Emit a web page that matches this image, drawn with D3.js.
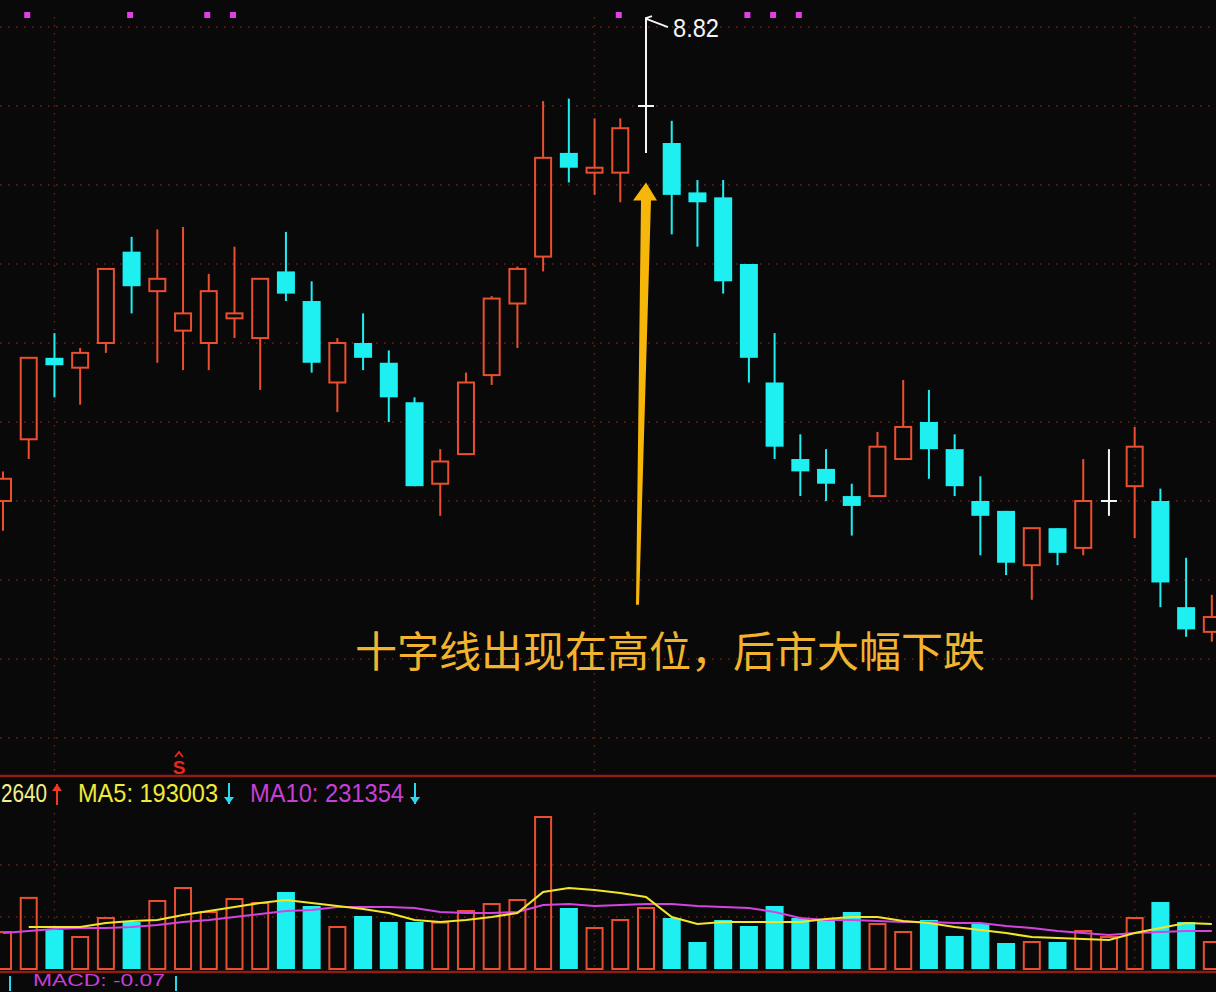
<!DOCTYPE html>
<html><head><meta charset="utf-8">
<script src="https://cdn.jsdelivr.net/npm/d3@7"></script>
<style>html,body{margin:0;padding:0;background:#090909;overflow:hidden}</style>
</head><body><svg id="c" width="1216" height="992"></svg>
<script>
// ---- data ----
const opens  = [6.86,7.11,7.44,7.40,7.50,7.87,7.71,7.55,7.50,7.60,7.52,7.79,7.67,7.34,7.50,7.42,7.26,6.93,7.05,7.37,7.66,7.85,8.27,8.19,8.19,8.46,8.31,8.11,8.09,7.82,7.34,7.03,6.99,6.88,6.88,7.03,7.18,7.07,6.86,6.82,6.60,6.75,6.67,6.86,6.92,6.86,6.43,6.33];
const highs  = [6.98,7.44,7.54,7.48,7.80,7.93,7.96,7.97,7.78,7.89,7.76,7.95,7.75,7.52,7.62,7.47,7.28,7.07,7.38,7.69,7.81,8.48,8.49,8.41,8.41,8.82,8.40,8.16,8.16,7.82,7.54,7.13,7.07,6.93,7.14,7.35,7.31,7.13,6.96,6.82,6.75,6.75,7.03,7.07,7.16,6.91,6.63,6.48];
const lows   = [6.74,7.03,7.28,7.25,7.46,7.62,7.42,7.39,7.39,7.52,7.31,7.67,7.38,7.22,7.39,7.18,6.92,6.80,7.05,7.33,7.48,7.79,8.15,8.10,8.07,8.27,7.94,7.89,7.70,7.34,7.03,6.88,6.86,6.72,6.88,7.03,6.95,6.88,6.64,6.56,6.46,6.60,6.64,6.80,6.71,6.43,6.31,6.29];
const closes = [6.95,7.44,7.41,7.46,7.80,7.73,7.76,7.62,7.71,7.62,7.76,7.70,7.42,7.50,7.44,7.28,6.92,7.02,7.34,7.68,7.80,8.25,8.21,8.21,8.37,8.46,8.10,8.07,7.75,7.44,7.08,6.98,6.93,6.84,7.08,7.16,7.07,6.92,6.80,6.61,6.75,6.65,6.86,6.86,7.08,6.53,6.34,6.39];
const volumes = [166000,320000,175500,144000,229500,211500,306000,364500,256500,315000,297000,346500,283500,189000,238500,211500,211500,209000,261000,292500,310500,684000,274500,184500,220500,274500,229500,121500,220500,193500,283500,229500,220500,256500,202500,166500,220500,148500,207000,117000,121500,121500,171000,144000,229500,301500,211500,121500];
const ma5 = [null,189000,189000,189000,207000,216000,220500,243000,261000,279000,297000,310500,297000,283500,270000,252000,220500,211500,220500,234000,252000,346500,364500,355500,342000,324000,234000,202500,211500,211500,211500,211500,225000,234000,234000,216000,207000,189000,175500,162000,144000,139500,135000,130500,162000,184500,207000,202500];
const ma10 = [162000,171000,180000,184500,184500,189000,198000,211500,220500,234000,247500,261000,265500,279000,279000,279000,274500,256500,252000,252000,256500,288000,292500,283500,288000,292500,292500,283500,279000,274500,256500,229500,220500,220500,216000,211500,211500,207000,207000,193500,184500,171000,162000,153000,162000,166500,171000,171000];
const signalDays = [1,5,8,9,24,29,30,31];
const gridDays = [2,23,44];
const priceGrid = [8.78,8.46,8.14,7.82,7.50,7.18,6.86,6.54,6.22,5.90];
const volGrid = [234000,468000];
const legend = [{t:"2640",c:"#f2ee8a"},{t:"MA5: 193003",c:"#f0ea3a"},{t:"MA10: 231354",c:"#c83fd6"}];
const noteText = "十字线出现在高位，后市大幅下跌";
const macdText = "MACD: -0.07";
const arrowDay = 25, arrowTip = 8.15, arrowBase = 6.44;

// ---- colours ----
const RED = "#ea4f30", CYAN = "#1ef0f2", WHITE = "#f4f4f4", GRID = "#6b2313";

const svg = d3.select("#c");
svg.append("rect").attr("width",1216).attr("height",992).attr("fill","#090909");

const x = d3.scaleLinear().domain([0, opens.length-1]).range([3, 3 + (opens.length-1)*25.72]);
const y = d3.scaleLinear().domain([5.90, 8.78]).range([738, 27]);
const vy = d3.scaleLinear().domain([0, 720000]).range([969, 809]);

// grid
const g = svg.append("g");
g.selectAll(".hp").data(priceGrid).join("line")
  .attr("x1",0).attr("x2",1216).attr("y1",d=>y(d)).attr("y2",d=>y(d))
  .attr("stroke",GRID).attr("stroke-width",1.5).attr("stroke-dasharray","1.5,6.5");
g.selectAll(".vp").data(gridDays).join("line")
  .attr("x1",d=>x(d)).attr("x2",d=>x(d)).attr("y1",17).attr("y2",772)
  .attr("stroke",GRID).attr("stroke-width",1.5).attr("stroke-dasharray","1.5,6.5");
g.selectAll(".hv").data(volGrid).join("line")
  .attr("x1",0).attr("x2",1216).attr("y1",d=>vy(d)).attr("y2",d=>vy(d))
  .attr("stroke",GRID).attr("stroke-width",1.5).attr("stroke-dasharray","1.5,6.5");
g.selectAll(".vv").data(gridDays).join("line")
  .attr("x1",d=>x(d)).attr("x2",d=>x(d)).attr("y1",813).attr("y2",969)
  .attr("stroke",GRID).attr("stroke-width",1.5).attr("stroke-dasharray","1.5,6.5");

// panel separators
svg.append("line").attr("x1",0).attr("x2",1216).attr("y1",776).attr("y2",776).attr("stroke","#8e1f10").attr("stroke-width",2.5);
svg.append("line").attr("x1",0).attr("x2",1216).attr("y1",972).attr("y2",972).attr("stroke","#8e1f10").attr("stroke-width",2.5);

// signal dots
svg.selectAll(".dot").data(signalDays).join("rect")
  .attr("x",d=>x(d)-4.5).attr("y",12).attr("width",6).attr("height",6).attr("fill","#e03fe6");

// candles
const idx = d3.range(opens.length);
const cg = svg.append("g");
idx.forEach(i=>{
  const o=opens[i], c=closes[i], h=highs[i], l=lows[i], cx=x(i);
  const top=y(Math.max(o,c)), bot=y(Math.min(o,c));
  if (c>o){
    cg.append("line").attr("x1",cx).attr("x2",cx).attr("y1",y(h)).attr("y2",top).attr("stroke",RED).attr("stroke-width",2);
    cg.append("line").attr("x1",cx).attr("x2",cx).attr("y1",bot).attr("y2",y(l)).attr("stroke",RED).attr("stroke-width",2);
    cg.append("rect").attr("x",cx-8).attr("y",top).attr("width",16).attr("height",Math.max(1,bot-top))
      .attr("fill","none").attr("stroke",RED).attr("stroke-width",2);
  } else if (c<o){
    cg.append("line").attr("x1",cx).attr("x2",cx).attr("y1",y(h)).attr("y2",y(l)).attr("stroke",CYAN).attr("stroke-width",2);
    cg.append("rect").attr("x",cx-9).attr("y",top).attr("width",18).attr("height",Math.max(2,bot-top)).attr("fill",CYAN);
  } else {
    cg.append("line").attr("x1",cx).attr("x2",cx).attr("y1",y(h)).attr("y2",y(l)).attr("stroke",WHITE).attr("stroke-width",2);
    cg.append("line").attr("x1",cx-8).attr("x2",cx+8).attr("y1",top).attr("y2",top).attr("stroke",WHITE).attr("stroke-width",2);
  }
});

// max price label
const iMax = d3.maxIndex(highs);
const mx = x(iMax), my = y(highs[iMax]);
svg.append("path").attr("d",`M${mx},${my+1} L${mx+6},${my-1} M${mx+1},${my+2} L${mx+22},${my+10}`)
  .attr("stroke",WHITE).attr("stroke-width",1.8).attr("fill","none");
svg.append("text").attr("x",mx+27).attr("y",my+20).attr("fill",WHITE)
  .attr("font-family","Liberation Sans, Arial, sans-serif").attr("font-size",25)
  .attr("textLength",46).attr("lengthAdjust","spacingAndGlyphs").text(highs[iMax].toFixed(2));

// annotation arrow
const ax = x(arrowDay), tipY = y(arrowTip), baseY = y(arrowBase), headY = tipY + 18;
svg.append("path")
  .attr("d",`M${ax},${tipY} L${ax+11},${headY} L${ax+5},${headY} L${ax-7},${baseY} L${ax-10},${baseY} L${ax-5},${headY} L${ax-13},${headY} Z`)
  .attr("fill","#f7b60a");

svg.append("text").attr("x",355).attr("y",648).attr("dominant-baseline","central")
  .attr("fill","#f3b32e").attr("font-family","Noto Sans CJK SC, sans-serif").attr("font-size",42)
  .attr("textLength",630).attr("lengthAdjust","spacingAndGlyphs").text(noteText);

// volume bars
const vg = svg.append("g");
idx.forEach(i=>{
  const cx=x(i), v=volumes[i];
  if (closes[i] < opens[i]) {
    vg.append("rect").attr("x",cx-9).attr("y",vy(v)).attr("width",18).attr("height",vy(0)-vy(v)).attr("fill",CYAN);
  } else {
    vg.append("rect").attr("x",cx-8).attr("y",vy(v)).attr("width",16).attr("height",vy(0)-vy(v))
      .attr("fill","none").attr("stroke",RED).attr("stroke-width",2);
  }
});

// moving averages
const line = d3.line().defined(d=>d[1]!=null).x(d=>x(d[0])).y(d=>vy(d[1]));
svg.append("path").attr("d",line(ma10.map((v,i)=>[i,v]))).attr("fill","none").attr("stroke","#d444e0").attr("stroke-width",2);
svg.append("path").attr("d",line(ma5.map((v,i)=>[i,v]))).attr("fill","none").attr("stroke","#f2e52a").attr("stroke-width",2.2);

// legend
const lf = "Liberation Sans, Arial, sans-serif";
const lpos = [{x:1,w:46},{x:78,w:140},{x:250,w:154}];
legend.forEach((d,k)=>{
  svg.append("text").attr("x",lpos[k].x).attr("y",802).attr("fill",d.c).attr("font-family",lf)
    .attr("font-size",25).attr("textLength",lpos[k].w).attr("lengthAdjust","spacingAndGlyphs").text(d.t);
});
function arrow(ax, up, col){
  const y1 = up?805:783, y2 = up?784:804;
  svg.append("line").attr("x1",ax).attr("x2",ax).attr("y1",y1).attr("y2",y2).attr("stroke",col).attr("stroke-width",2);
  const hy = y2, d = up? 7 : -7;
  svg.append("path").attr("d",`M${ax-5},${hy+d} L${ax},${hy} L${ax+5},${hy+d} Z`).attr("fill",col);
}
arrow(57,true,"#ee3a24");
arrow(229,false,"#2ad8f0");
arrow(415,false,"#2ad8f0");

// S marker
svg.append("text").attr("x",179).attr("y",774).attr("text-anchor","middle").attr("fill","#e8261c")
  .attr("font-family",lf).attr("font-weight","bold").attr("font-size",19).text("S");
svg.append("path").attr("d","M175,757 L179,752 L183,757").attr("stroke","#e8261c").attr("stroke-width",2).attr("fill","none");

// MACD label
svg.append("line").attr("x1",10).attr("x2",10).attr("y1",976).attr("y2",991).attr("stroke","#2ad8f0").attr("stroke-width",2);
svg.append("line").attr("x1",176).attr("x2",176).attr("y1",976).attr("y2",991).attr("stroke","#2ad8f0").attr("stroke-width",2);
svg.append("text").attr("x",33).attr("y",986).attr("fill","#c83fd6").attr("font-family",lf)
  .attr("font-size",16).attr("textLength",132).attr("lengthAdjust","spacingAndGlyphs").text(macdText);
</script></body></html>
